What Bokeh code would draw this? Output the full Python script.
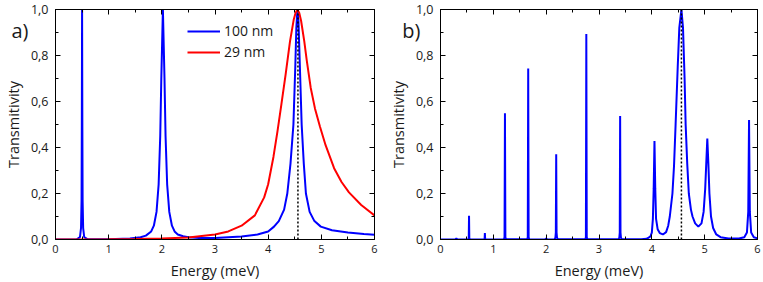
from bokeh.plotting import figure
from bokeh.models import (Range1d, LinearAxis, FixedTicker, CustomJSTickFormatter,
                          Span, Label, Legend, LegendItem)
from bokeh.layouts import row
from bokeh.embed import file_html
from bokeh.resources import INLINE

FONT = "Open Sans"

# ---------------- data ----------------
x_ticks = [0, 1, 2, 3, 4, 5, 6]
x_minor = [0.5, 1.5, 2.5, 3.5, 4.5, 5.5]
y_ticks = [0.0, 0.2, 0.4, 0.6, 0.8, 1.0]
y_minor = [0.1, 0.3, 0.5, 0.7, 0.9]
marker_energy = 4.56
marker_label = "4.56"
panel_tags = ["a)", "b)"]

# panel a), 100 nm
e_100nm = [0.0, 0.40, 0.46, 0.48, 0.49, 0.495, 0.50, 0.505, 0.51, 0.52, 0.54, 0.60,
           1.00, 1.40, 1.60, 1.70, 1.80, 1.85, 1.90, 1.94, 1.97, 1.99, 2.02, 2.05,
           2.07, 2.10, 2.14, 2.19, 2.24, 2.30, 2.40, 2.50, 2.70, 3.00, 3.50, 3.80,
           4.00, 4.11, 4.20, 4.30, 4.36, 4.42, 4.475, 4.51, 4.53, 4.55, 4.57, 4.59,
           4.63, 4.67, 4.71, 4.78, 4.87, 4.99, 5.20, 5.50, 5.80, 6.00]
t_100nm = [0.0, 0.001, 0.01, 0.05, 0.17, 0.5, 1.0, 0.5, 0.17, 0.05, 0.01, 0.002,
           0.001, 0.004, 0.010, 0.017, 0.035, 0.06, 0.12, 0.24, 0.45, 0.7, 1.0, 0.7,
           0.45, 0.24, 0.12, 0.06, 0.035, 0.022, 0.014, 0.010, 0.007, 0.007, 0.013, 0.022,
           0.035, 0.056, 0.08, 0.13, 0.2, 0.33, 0.5, 0.75, 0.92, 1.0, 0.95, 0.8,
           0.5, 0.33, 0.2, 0.12, 0.08, 0.056, 0.04, 0.03, 0.024, 0.021]

# panel a), 29 nm
e_29nm = [0.0, 1.0, 1.5, 2.0, 2.5, 3.0, 3.25, 3.5, 3.75, 3.925, 4.0, 4.1, 4.175, 4.25,
          4.33, 4.41, 4.48, 4.515, 4.55, 4.585, 4.62, 4.68, 4.725, 4.8, 4.88, 4.975, 5.08,
          5.24, 5.38, 5.52, 5.75, 6.0]
t_29nm = [0.0, 0.001, 0.002, 0.004, 0.009, 0.022, 0.035, 0.06, 0.105, 0.183, 0.24, 0.36, 0.47, 0.59,
          0.72, 0.86, 0.955, 0.985, 1.0, 0.985, 0.95, 0.86, 0.78, 0.66, 0.57, 0.49, 0.41,
          0.31, 0.25, 0.205, 0.15, 0.105]

# panel b)
e_b = [0.00, 0.28, 0.30, 0.32, 0.52, 0.535, 0.54, 0.545, 0.56, 0.82, 0.835, 0.84, 0.845, 0.86,
       1.20, 1.212, 1.22, 1.228, 1.24, 1.64, 1.652, 1.66, 1.668, 1.68, 1.98, 2.00, 2.02,
       2.16, 2.175, 2.183, 2.19, 2.197, 2.205, 2.22, 2.74, 2.752, 2.76, 2.768, 2.78,
       3.37, 3.385, 3.393, 3.40, 3.407, 3.415, 3.43, 3.80, 3.90, 3.97, 4.00, 4.02, 4.035,
       4.05, 4.065, 4.08, 4.11, 4.15, 4.21, 4.27, 4.31, 4.34, 4.39, 4.42, 4.45, 4.49, 4.52,
       4.56, 4.59, 4.62, 4.64, 4.67, 4.70, 4.74, 4.77, 4.82, 4.88, 4.94, 4.98, 5.01, 5.03,
       5.05, 5.07, 5.09, 5.12, 5.16, 5.22, 5.30, 5.45, 5.65, 5.75, 5.80, 5.825, 5.84, 5.855,
       5.88, 5.93, 6.00]
t_b = [0.0, 0.0, 0.005, 0.0, 0.0, 0.005, 0.103, 0.005, 0.0, 0.0, 0.003, 0.028, 0.003, 0.0,
       0.001, 0.01, 0.549, 0.01, 0.001, 0.001, 0.01, 0.743, 0.01, 0.001, 0.0, 0.005, 0.0,
       0.001, 0.008, 0.03, 0.371, 0.03, 0.008, 0.001, 0.001, 0.01, 0.893, 0.01, 0.001,
       0.001, 0.008, 0.03, 0.537, 0.03, 0.008, 0.001, 0.001, 0.003, 0.012, 0.03, 0.09, 0.22,
       0.428, 0.22, 0.09, 0.045, 0.028, 0.022, 0.032, 0.06, 0.10, 0.20, 0.32, 0.50, 0.75, 0.92,
       1.0, 0.92, 0.70, 0.50, 0.33, 0.20, 0.13, 0.10, 0.07, 0.056, 0.07, 0.12, 0.22, 0.33,
       0.439, 0.33, 0.20, 0.10, 0.05, 0.022, 0.01, 0.004, 0.004, 0.01, 0.03, 0.12, 0.52, 0.12,
       0.03, 0.01, 0.005]

BLUE = "#0000ff"
RED = "#ff0000"
TXT = "#1a1a1a"


def make_panel(width, border_left):
    p = figure(width=width, height=282, x_range=Range1d(0, 6), y_range=Range1d(0, 1),
               output_backend="svg", toolbar_location=None,
               min_border_left=border_left, min_border_right=6,
               min_border_top=9, min_border_bottom=0)
    p.grid.visible = False
    p.outline_line_color = "black"
    p.outline_line_width = 1
    p.background_fill_color = "white"
    p.border_fill_color = "white"

    p.xaxis.ticker = FixedTicker(ticks=x_ticks, minor_ticks=x_minor)
    p.yaxis.ticker = FixedTicker(ticks=y_ticks, minor_ticks=y_minor)
    p.yaxis.formatter = CustomJSTickFormatter(code="return tick.toFixed(1).replace('.', ',');")
    p.xaxis.axis_label = "Energy (meV)"
    p.yaxis.axis_label = "Transmitivity"

    blank = CustomJSTickFormatter(code="return '';")
    top = LinearAxis(ticker=FixedTicker(ticks=x_ticks, minor_ticks=x_minor), formatter=blank)
    right = LinearAxis(ticker=FixedTicker(ticks=y_ticks, minor_ticks=y_minor), formatter=blank)
    p.add_layout(top, "above")
    p.add_layout(right, "right")

    for ax in p.axis:
        ax.axis_line_color = "black"
        ax.major_tick_line_color = "black"
        ax.minor_tick_line_color = "black"
        ax.major_tick_in = 5
        ax.major_tick_out = 0
        ax.minor_tick_in = 3
        ax.minor_tick_out = 0
        ax.major_label_text_font = FONT
        ax.major_label_text_color = TXT
        ax.axis_label_text_font = FONT
        ax.axis_label_text_font_style = "normal"
        ax.axis_label_text_font_size = "14.5px"
        ax.axis_label_text_color = TXT
    for ax in (top, right):
        ax.major_label_text_font_size = "1px"
        ax.major_label_standoff = -10
    p.xaxis[0].major_label_text_font_size = "12.5px"
    p.yaxis[0].major_label_text_font_size = "12.5px"
    p.xaxis[0].major_label_standoff = 5
    p.xaxis[0].axis_label_standoff = -3
    p.yaxis[0].major_label_standoff = 7
    p.yaxis[0].axis_label_standoff = 5
    return p


def add_tag(p, tag, standoff):
    # panel tag drawn as the single label of an extra, line-less left axis
    ax = LinearAxis(ticker=FixedTicker(ticks=[0.91], minor_ticks=[]),
                    formatter=CustomJSTickFormatter(code="return %r;" % tag))
    ax.axis_line_color = None
    ax.major_tick_line_color = None
    ax.minor_tick_line_color = None
    ax.major_tick_in = 0
    ax.major_tick_out = 0
    ax.minor_tick_in = 0
    ax.minor_tick_out = 0
    ax.major_label_standoff = standoff
    ax.major_label_text_font = FONT
    ax.major_label_text_font_size = "20px"
    ax.major_label_text_color = TXT
    p.add_layout(ax, "left")


def add_marker(p):
    p.add_layout(Span(location=marker_energy, dimension="height", line_color="black",
                      line_width=1.5, line_dash="2 2"))
    p.add_layout(Label(x=marker_energy, y=0, y_offset=-3, text=marker_label,
                       text_align="center", text_baseline="top", text_font=FONT,
                       text_font_size="11.5px", text_color=TXT))


pa = make_panel(380, 53)
r_blue = pa.line(e_100nm, t_100nm, line_color=BLUE, line_width=2)
r_red = pa.line(e_29nm, t_29nm, line_color=RED, line_width=2)
add_marker(pa)
legend = Legend(items=[LegendItem(label="100 nm", renderers=[r_blue]),
                       LegendItem(label="29 nm", renderers=[r_red])],
                location=(132, 178), border_line_color=None, background_fill_alpha=0,
                padding=0, margin=0, spacing=2, glyph_width=33, glyph_height=16,
                label_height=16, label_standoff=4, label_text_font=FONT,
                label_text_font_size="14px", label_text_color=TXT)
pa.add_layout(legend)
add_tag(pa, panel_tags[0], -28)

pb = make_panel(383, 60)
pb.line(e_b, t_b, line_color=BLUE, line_width=2)
add_marker(pb)
add_tag(pb, panel_tags[1], -35)

layout = row(pa, pb)
open("out.html", "w").write(file_html(layout, INLINE))
